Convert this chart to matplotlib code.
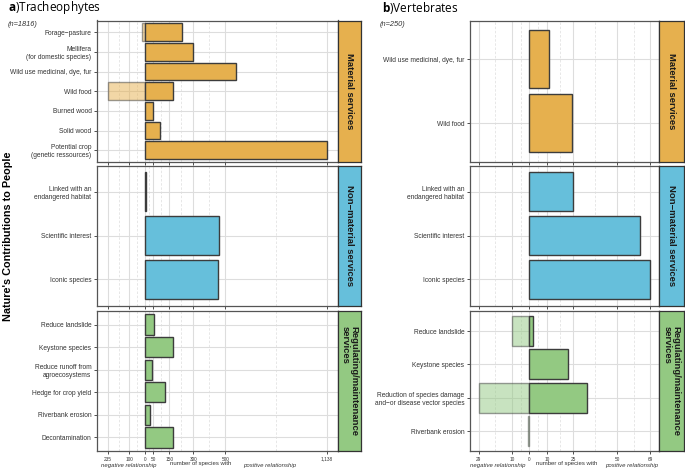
import numpy as np
import matplotlib.pyplot as plt

plt.rcParams['font.family'] = ['Liberation Sans', 'DejaVu Sans']
plt.rcParams['mathtext.fontset'] = 'custom'
plt.rcParams['mathtext.bf'] = 'Open Sans:bold'
plt.rcParams['mathtext.rm'] = 'Open Sans'

groups = ['Material services', 'Non\u2212material services', 'Regulating/maintenance\nservices']
group_colors = ['#E6B04E', '#66BFDB', '#93C982']

# a) Tracheophytes
tr_labels = [
    ['Forage\u2212pasture', 'Mellifera\n(for domestic species)', 'Wild use medicinal, dye, fur',
     'Wild food', 'Burned wood', 'Solid wood', 'Potential crop\n(genetic ressources)'],
    ['Linked with an\nendangered habitat', 'Scientific interest', 'Iconic species'],
    ['Reduce landslide', 'Keystone species', 'Reduce runoff from\nagroecosystems',
     'Hedge for crop yield', 'Riverbank erosion', 'Decontamination'],
]
tr_pos = [
    [227, 295, 569, 171, 49, 93, 1138],
    [4, 458, 454],
    [56, 173, 40, 120, 31, 175],
]
tr_neg = [
    [19, 0, 0, 235, 0, 0, 0],
    [0, 0, 0],
    [0, 0, 0, 0, 0, 0],
]
tr_ticks = [-235, -100, 0, 50, 150, 300, 500, 1138]

# b) Vertebrates
ve_labels = [
    ['Wild use medicinal, dye, fur', 'Wild food'],
    ['Linked with an\nendangered habitat', 'Scientific interest', 'Iconic species'],
    ['Reduce landslide', 'Keystone species',
     'Reduction of species damage\nand\u2212or disease vector species', 'Riverbank erosion'],
]
ve_pos = [
    [11, 24],
    [25, 63, 69],
    [2, 22, 33, 0],
]
ve_neg = [
    [0, 0],
    [0, 0, 0],
    [10, 0, 29, 1],
]
ve_ticks = [-29, -10, 0, 10, 25, 50, 69]

W, H = 685, 472
fig = plt.figure(figsize=(W / 100, H / 100), dpi=100)

rows = [(20.5, 162), (165.5, 305.5), (311, 451)]
panels = [
    dict(x=(97, 338), strip=(338, 361), labels=tr_labels, pos=tr_pos, neg=tr_neg, ticks=tr_ticks),
    dict(x=(470, 659), strip=(659, 684), labels=ve_labels, pos=ve_pos, neg=ve_neg, ticks=ve_ticks),
]

def fbox(x0, x1, y0, y1):
    return [x0 / W, 1 - y1 / H, (x1 - x0) / W, (y1 - y0) / H]

edge = '#3C3C3C'
for p in panels:
    lo, hi = min(p['ticks']), max(p['ticks'])
    pad = 0.05 * (hi - lo)
    minor = [(a + b) / 2 for a, b in zip(p['ticks'][:-1], p['ticks'][1:])]
    for r, (y0, y1) in enumerate(rows):
        ax = fig.add_axes(fbox(p['x'][0], p['x'][1], y0, y1))
        labs = p['labels'][r]
        n = len(labs)
        y = np.arange(n, 0, -1)
        ax.set_xlim(lo - pad, hi + pad)
        ax.set_ylim(0.4, n + 0.6)
        for m in minor:
            ax.axvline(m, color='#E3E3E3', lw=0.6, ls=(0, (3, 2)), zorder=0)
        for t in p['ticks']:
            ax.axvline(t, color='#DDDDDD', lw=0.8, zorder=0)
        for yy in y:
            ax.axhline(yy, color='#DDDDDD', lw=0.8, zorder=0)
        neg = np.array(p['neg'][r])
        pos = np.array(p['pos'][r])
        mask = neg > 0
        ax.barh(y[mask], -neg[mask], height=0.9, color=group_colors[r], edgecolor=edge,
                lw=1.0, alpha=0.5, zorder=2)
        mask = pos > 0
        ax.barh(y[mask], pos[mask], height=0.9, color=group_colors[r], edgecolor=edge,
                lw=1.0, zorder=3)
        ax.set_yticks(y)
        ax.set_yticklabels(labs, fontsize=4.8, color='#333333')
        ax.set_xticks(p['ticks'])
        if r == 2:
            ax.set_xticklabels([f'{abs(t):,}' for t in p['ticks']], fontsize=3.4, color='#333333')
        else:
            ax.tick_params(axis='x', length=0, labelbottom=False)
        ax.tick_params(axis='both', length=2.5, width=0.6, color='#333333', pad=1.5)
        for s in ax.spines.values():
            s.set_color('#555555')
            s.set_linewidth(0.9)
        # strip
        sx = fig.add_axes(fbox(p['strip'][0], p['strip'][1], y0, y1))
        sx.set_facecolor(group_colors[r])
        sx.set_xticks([])
        sx.set_yticks([])
        for s in sx.spines.values():
            s.set_color('#333333')
            s.set_linewidth(0.9)
        sx.text(0.5, 0.5, groups[r], rotation=-90, ha='center', va='center',
                multialignment='left', fontsize=6.8, fontweight='bold', color='#1A1A1A',
                transform=sx.transAxes, linespacing=0.95)

# titles
fig.text(8 / W, 1 - 8 / H, r'$\mathbf{a}$)Tracheophytes', fontsize=8.5, family='Open Sans',
         ha='left', va='center')
fig.text(8 / W, 1 - 25 / H, '(n=1816)', fontsize=5.3, style='italic', ha='left', va='center',
         color='#333333')
fig.text(382 / W, 1 - 8 / H, r'$\mathbf{b}$)Vertebrates', fontsize=8.5, family='Open Sans',
         ha='left', va='center')
fig.text(380 / W, 1 - 25 / H, '(n=250)', fontsize=5.3, style='italic', ha='left', va='center',
         color='#333333')

fig.text(8 / W, 1 - 236 / H, "Nature's Contributions to People", rotation=90, fontsize=7.8,
         fontweight='bold', ha='center', va='center')

# bottom annotations
for neg_x, mid_x, pos_x in [(129, 201, 270), (498, 567, 632)]:
    fig.text(neg_x / W, 1 - 466 / H, 'negative relationship', fontsize=4.3, style='italic',
             ha='center', va='center', color='#333333')
    fig.text(mid_x / W, 1 - 463 / H, 'number of species with', fontsize=4.3,
             ha='center', va='center', color='#333333')
    fig.text(pos_x / W, 1 - 466 / H, 'positive relationship', fontsize=4.3, style='italic',
             ha='center', va='center', color='#333333')

fig.savefig('out.png', dpi=100)
